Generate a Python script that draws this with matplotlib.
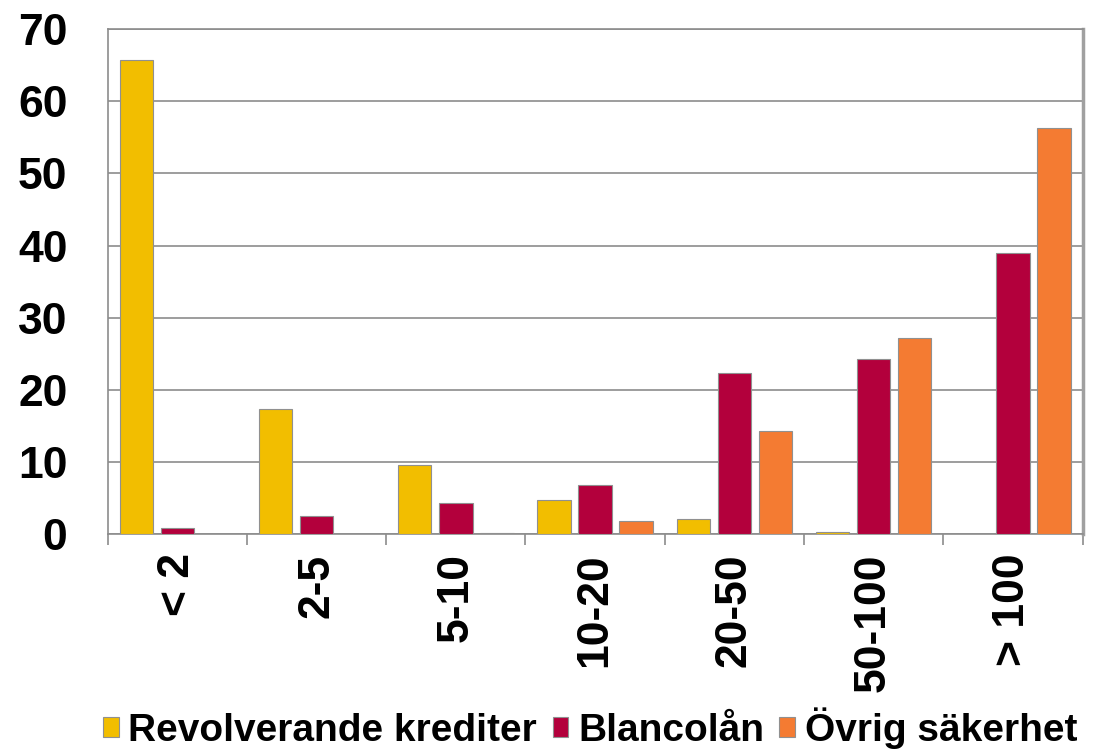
import numpy as np
import matplotlib.pyplot as plt

plt.rcParams['font.family'] = ['Liberation Sans', 'DejaVu Sans']

categories = ['< 2', '2-5', '5-10', '10-20', '20-50', '50-100', '> 100']
revolverande = [65.7, 17.3, 9.6, 4.7, 2.1, 0.3, 0.0]
blancolan = [0.8, 2.5, 4.3, 6.8, 22.3, 24.3, 39.0]
ovrig = [0.0, 0.0, 0.1, 1.8, 14.3, 27.2, 56.3]
series_names = ['Revolverande krediter', 'Blancolån', 'Övrig säkerhet']
colors = ['#F2BE00', '#B3003C', '#F47B32']

fig = plt.figure(figsize=(10.99, 7.5), dpi=100)
ax = fig.add_axes([0.098, 0.288, 0.887, 0.673])

x = np.arange(len(categories))
w = 0.24
step = 0.295
for i, (vals, name, c) in enumerate(zip([revolverande, blancolan, ovrig], series_names, colors)):
    ax.bar(x + (i - 1) * step, vals, width=w, color=c, edgecolor='#909090',
           linewidth=0.8, label=name, zorder=3)

ax.set_xlim(-0.5, len(categories) - 0.5)
ax.set_ylim(0, 70)
ax.set_yticks(range(0, 71, 10))
ax.yaxis.grid(True, color='#8c8c8c', linewidth=1.2, zorder=0)

# tick marks at category borders, labels at centres
ax.set_xticks(np.arange(-0.5, len(categories), 1.0))
ax.set_xticklabels([])
ax.tick_params(axis='x', which='major', length=8, width=1.2, color='#8c8c8c', direction='out')
ax.set_xticks(x, minor=True)
ax.set_xticklabels(categories, minor=True, rotation=90, fontsize=32, fontweight='bold')
ax.tick_params(axis='x', which='minor', length=0, pad=14)
ax.tick_params(axis='y', length=0, pad=29, labelsize=32)
for lbl in ax.get_yticklabels():
    lbl.set_fontweight('bold')

for s in ['left', 'bottom', 'top']:
    ax.spines[s].set_color('#8c8c8c')
    ax.spines[s].set_linewidth(1.2)
ax.spines['right'].set_color('#a0a0a0')
ax.spines['right'].set_linewidth(2.5)

leg = fig.legend(loc='lower center', bbox_to_anchor=(0.537, -0.045), ncol=3, frameon=False,
                 prop={'size': 28, 'weight': 'bold'}, handlelength=0.4, handleheight=0.4,
                 handletextpad=0.25, columnspacing=0.4)

fig.savefig('out.png', dpi=100)
